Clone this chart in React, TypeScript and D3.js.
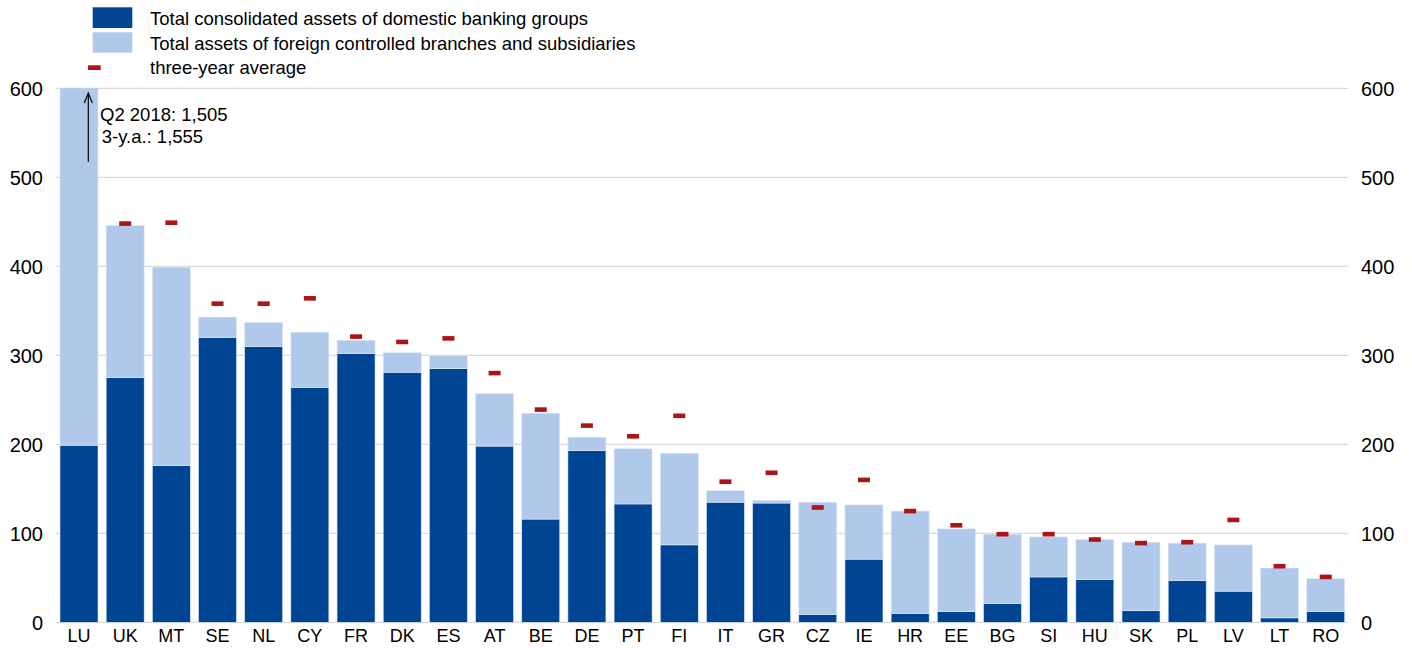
import React from "react";
import * as d3 from "d3";

const categories = ["LU","UK","MT","SE","NL","CY","FR","DK","ES","AT","BE","DE","PT","FI","IT","GR","CZ","IE","HR","EE","BG","SI","HU","SK","PL","LV","LT","RO"];
const domestic = [199, 275, 176, 320, 310, 264, 302, 281, 285, 198, 116, 193, 133, 87, 135, 134, 9, 71, 10, 12, 21, 51, 48, 13, 47, 35, 5, 12];
const foreign = [1306, 171, 223, 23, 27, 62, 15, 22, 15, 59, 119, 15, 62, 103, 13, 3, 126, 61, 115, 93, 78, 45, 45, 77, 42, 52, 56, 37];
const threeYearAvg = [1555, 448, 449, 358, 358, 364, 321, 315, 319, 280, 239, 221, 209, 232, 158, 168, 129, 160, 125, 109, 99, 99, 93, 89, 90, 115, 63, 51];
const yTicks = [0, 100, 200, 300, 400, 500, 600];
const legendLabels = [
  "Total consolidated assets of domestic banking groups",
  "Total assets of foreign controlled branches and subsidiaries",
  "three-year average",
];
const annotationLines = ["Q2 2018: 1,505", "3-y.a.: 1,555"];

const W = 1412, H = 648;
const DARK = "#004494", LIGHT = "#b0c9eb", RED = "#ab1515", GRID = "#d9d9d9";
const FONT = "'Liberation Sans', Arial, sans-serif";

export default function App() {
  const x = d3.scaleBand<string>().domain(categories).range([55.9, 1348.8]).paddingInner(0.177).paddingOuter(0.0885);
  const y = d3.scaleLinear().domain([0, 600]).range([622.3, 88.3]);
  const rows = categories.map((c, i) => ({ cat: c, domestic: domestic[i], foreign: foreign[i] }));
  const stack = d3.stack<any>().keys(["domestic", "foreign"])(rows);
  const colors = [DARK, LIGHT];
  const bw = x.bandwidth();
  const luX = (x("LU") as number) + bw / 2 + 9.5;

  return (
    <svg width={W} height={H} style={{ position: "absolute", left: 0, top: 0, background: "#fff" }} fontFamily={FONT}>
      <defs>
        <clipPath id="plot">
          <rect x={0} y={y(600)} width={W} height={y(0) - y(600) + 1} />
        </clipPath>
      </defs>
      {/* gridlines */}
      {yTicks.map((t) => (
        <line key={t} x1={56} x2={1348} y1={y(t)} y2={y(t)} stroke={GRID} strokeWidth={1.2} />
      ))}
      {/* left ticks */}
      {yTicks.map((t) => (
        <text key={"l" + t} x={43} y={y(t)} dy="0.36em" textAnchor="end" fontSize={20} fill="#000">{t}</text>
      ))}
      {yTicks.map((t) => (
        <text key={"r" + t} x={1361} y={y(t)} dy="0.36em" textAnchor="start" fontSize={20} fill="#000">{t}</text>
      ))}
      {/* bars */}
      <g clipPath="url(#plot)">
        {stack.map((s, si) =>
          s.map((d, i) => (
            <rect
              key={si + "-" + i}
              x={x(categories[i]) as number}
              width={bw}
              y={y(d[1])}
              height={Math.max(0, y(d[0]) - y(d[1]))}
              fill={colors[si]}
              stroke="#dfe9f7"
              strokeWidth={0.6}
            />
          ))
        )}
        {threeYearAvg.map((v, i) => (
          <rect key={"a" + i} x={(x(categories[i]) as number) + bw / 2 - 6} width={12} y={y(v) - 2.3} height={4.6} fill={RED} />
        ))}
      </g>
      {/* x labels */}
      {categories.map((c) => (
        <text key={c} x={(x(c) as number) + bw / 2} y={642} textAnchor="middle" fontSize={18} fill="#000">{c}</text>
      ))}
      {/* annotation */}
      <line x1={88.3} x2={88.3} y1={161.7} y2={93.5} stroke="#000" strokeWidth={1.2} />
      <path d={`M${88.3 - 4},${103} L88.3,93 L${88.3 + 4},103`} fill="none" stroke="#000" strokeWidth={1.2} />
      <text x={100} y={120.7} fontSize={18.5} fill="#000">{annotationLines[0]}</text>
      <text x={101.7} y={143.3} fontSize={18.5} fill="#000">{annotationLines[1]}</text>
      {/* legend */}
      <rect x={92.7} y={7.3} width={39.6} height={20.7} fill={DARK} />
      <rect x={92.7} y={32.3} width={39.6} height={20.4} fill={LIGHT} />
      <rect x={88} y={65.3} width={12.7} height={4.7} fill={RED} />
      <text x={150} y={25} fontSize={18.5} fill="#000">{legendLabels[0]}</text>
      <text x={150} y={50} fontSize={18.5} fill="#000">{legendLabels[1]}</text>
      <text x={150} y={74} fontSize={18.5} fill="#000">{legendLabels[2]}</text>
    </svg>
  );
}
